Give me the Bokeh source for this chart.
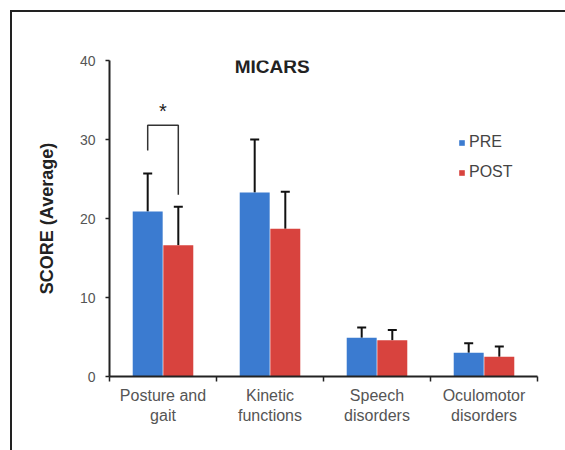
import numpy as np
from bokeh.plotting import figure
from bokeh.models import (ColumnDataSource, Range1d, FixedTicker, Whisker, TeeHead,
                          Label, Legend, LegendItem)
from bokeh.transform import dodge
from bokeh.embed import file_html
from bokeh.resources import INLINE

# ---- data ----
categories = ["Posture and\ngait", "Kinetic\nfunctions", "Speech\ndisorders", "Oculomotor\ndisorders"]
pre_mean = [20.9, 23.3, 4.9, 3.0]
pre_err = [4.8, 6.7, 1.3, 1.2]
post_mean = [16.6, 18.7, 4.6, 2.5]
post_err = [4.9, 4.7, 1.3, 1.3]
y_ticks = [0, 10, 20, 30, 40]
title_text = "MICARS"
y_label = "SCORE (Average)"
series_names = ["PRE", "POST"]
sig_star = "*"
# significance bracket (category 0): top, left-leg bottom, right-leg bottom
sig_top, sig_left_bottom, sig_right_bottom = 31.8, 28.6, 23.0
sig_star_y = 33.6

PRE_COLOR = "#3b7bd0"
POST_COLOR = "#d8433e"
FONT = "Liberation Sans"

n = len(categories)
xc = np.arange(n) + 0.5
off = 0.143
bw = 0.28

src = ColumnDataSource(dict(
    x=xc, pre=pre_mean, post=post_mean,
    pre_up=np.array(pre_mean) + np.array(pre_err),
    post_up=np.array(post_mean) + np.array(post_err),
))

p = figure(output_backend="svg", toolbar_location=None,
           frame_width=428, frame_height=316,
           min_border_left=109, min_border_top=60,
           min_border_right=28, min_border_bottom=74,
           x_range=Range1d(0, n), y_range=Range1d(0, 40))
p.outline_line_color = None
p.grid.visible = False
p.background_fill_color = "white"
p.border_fill_alpha = 0
p.styles = {
    "background-color": "white",
    "background-image": "linear-gradient(#222222, #222222), linear-gradient(#222222, #222222)",
    "background-size": "100% 2px, 2px 100%",
    "background-position": "10px 10px, 10px 10px",
    "background-repeat": "no-repeat",
}

r_pre = p.vbar(x=dodge("x", -off, range=p.x_range), top="pre", width=bw, bottom=0,
               source=src, fill_color=PRE_COLOR, line_color=None)
r_post = p.vbar(x=dodge("x", off, range=p.x_range), top="post", width=bw, bottom=0,
                source=src, fill_color=POST_COLOR, line_color=None)

for col_lo, col_up, o in (("pre", "pre_up", -off), ("post", "post_up", off)):
    w = Whisker(base=dodge("x", o, range=p.x_range), lower=col_lo, upper=col_up, source=src,
                line_color="#111111", line_width=2,
                upper_head=TeeHead(size=9, line_width=2, line_color="#111111"),
                lower_head=None)
    p.add_layout(w)

# significance bracket
bx0, bx1 = xc[0] - off, xc[0] + off
p.line(x=[bx0, bx0, bx1, bx1], y=[sig_left_bottom, sig_top, sig_top, sig_right_bottom],
       line_color="#333333", line_width=1.5)
p.add_layout(Label(x=(bx0 + bx1) / 2, y=sig_star_y, text=sig_star, text_align="center",
                   text_baseline="middle", text_font=FONT, text_font_size="20px",
                   text_color="#222222"))

# title
p.add_layout(Label(x=1.52, y=39.3, text=title_text, text_align="center", text_baseline="middle",
                   text_font=FONT, text_font_size="19px", text_font_style="bold",
                   text_color="#222222"))

# axes
xa = p.xaxis[0]
xa.ticker = FixedTicker(ticks=list(xc), minor_ticks=list(range(0, n + 1)))
xa.major_label_overrides = {float(v): c for v, c in zip(xc, categories)}
xa.major_tick_line_color = None
xa.minor_tick_in = 0
xa.minor_tick_out = 5
xa.minor_tick_line_color = "#222222"
xa.minor_tick_line_width = 1.5
xa.axis_line_color = "#222222"
xa.axis_line_width = 2
xa.major_label_text_font = FONT
xa.major_label_text_font_size = "16px"
xa.major_label_text_color = "#555555"
xa.major_label_standoff = 4

ya = p.yaxis[0]
ya.ticker = FixedTicker(ticks=y_ticks)
ya.minor_tick_line_color = None
ya.major_tick_in = 0
ya.major_tick_out = 4
ya.major_tick_line_color = "#222222"
ya.major_tick_line_width = 1.5
ya.axis_line_color = "#222222"
ya.axis_line_width = 2
ya.major_label_text_font = FONT
ya.major_label_text_font_size = "14px"
ya.major_label_text_color = "#555555"
ya.major_label_standoff = 10
ya.axis_label = y_label
ya.axis_label_text_font = FONT
ya.axis_label_text_font_size = "18px"
ya.axis_label_text_font_style = "bold"
ya.axis_label_text_color = "#222222"
ya.axis_label_standoff = 20

legend = Legend(items=[LegendItem(label=series_names[0], renderers=[r_pre]),
                       LegendItem(label=series_names[1], renderers=[r_post])],
                location=(349, 195))
legend.glyph_width = 7
legend.glyph_height = 7
legend.label_text_font = FONT
legend.label_text_font_size = "16px"
legend.label_text_color = "#444444"
legend.background_fill_alpha = 0
legend.border_line_color = None
legend.spacing = 12
legend.padding = 0
legend.label_standoff = 4
p.add_layout(legend)

open("out.html", "w").write(file_html(p, INLINE))
